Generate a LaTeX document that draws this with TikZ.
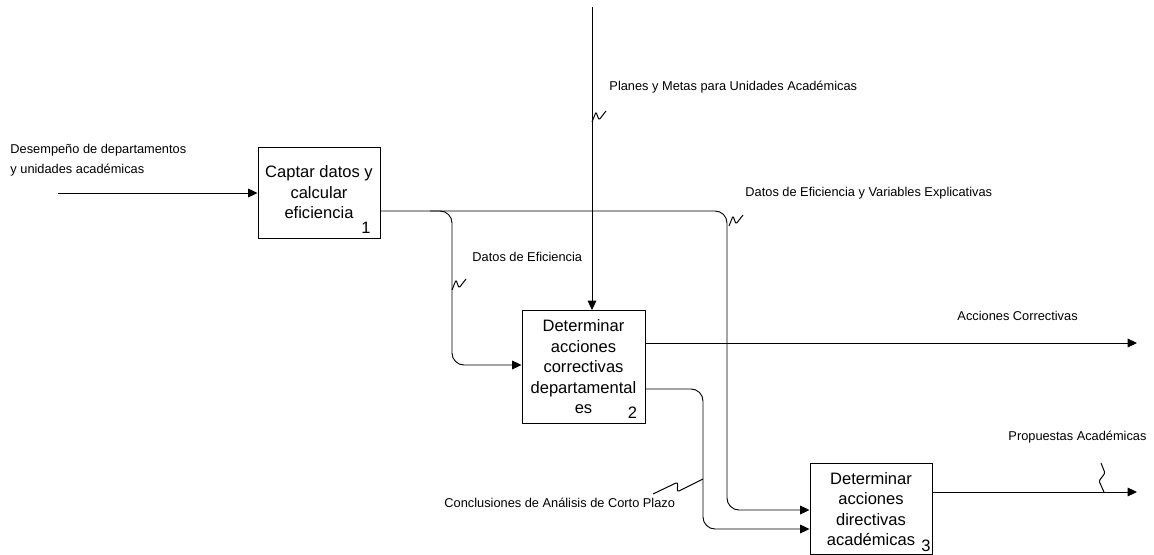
\documentclass[tikz,border=0pt]{standalone}
\usepackage{fontspec}
\setmainfont{Liberation Sans}
\usetikzlibrary{arrows.meta}

\tikzset{
  proc/.style={draw, fill=white, align=center, inner sep=0pt,
    minimum width=91.5pt, minimum height=68.25pt,
    font=\fontsize{12.4}{15.4}\selectfont},
  num/.style={anchor=south east, inner sep=0pt, font=\fontsize{12.4}{14}\selectfont},
  lbl/.style={anchor=west, inner sep=0pt, align=left, font=\fontsize{9.6}{15}\selectfont},
  arr/.style={-{Triangle[length=7pt, width=6.5pt]}},
  squig/.pic={\draw[line width=0.75pt, rounded corners=1pt] (0,0) -- (4,-10) -- (7,-2) -- (14,-11);}
}

\begin{document}
\begin{tikzpicture}[x=0.75pt, y=-0.75pt, line width=0.7pt]
  \useasboundingbox (0,0) rectangle (1154,555);

  % Activities
  \node[proc] (c1) at (319,192.5) {Captar datos y\\calcular\\eficiencia};
  \node[num, xshift=-7pt, yshift=3pt] (n1) at (c1.south east) {1};
  \node[proc, minimum width=92.25pt, minimum height=84.75pt] (c2) at (583.5,367)
    {Determinar\\acciones\\correctivas\\departamental\\es};
  \node[num, xshift=-6pt, yshift=4pt] (n2) at (c2.south east) {2};
  \node[proc] (c3) at (871,509) {Determinar\\acciones\\directivas\\académicas};
  \node[num, xshift=-1pt, yshift=2pt] (n3) at (c3.south east) {3};

  % Inputs and control
  \coordinate (in1) at (58,193);
  \draw[arr] (in1) -- (in1 -| c1.west);
  \coordinate (top) at (592,7);
  \draw[arr] (top) -- (top |- c2.north);

  % Flows between activities
  \draw[arr, rounded corners=9pt] (c1.east |- 0,211) -| (727,510) -- (c3.west |- 0,510);
  \draw[arr, rounded corners=9pt] (430,211) -| (452,365) -- (c2.west |- 0,365);
  \draw[arr, rounded corners=9pt] (c2.east |- 0,389) -| (703,529) -- (c3.west |- 0,529);

  % Outputs
  \coordinate (ac) at (1137,343);
  \draw[arr] (c2.east |- ac) -- (ac);
  \coordinate (pa) at (1137,492);
  \draw[arr] (c3.east |- pa) -- (pa);

  % Squiggles
  \pic at (592,122) {squig};
  \pic at (452,290) {squig};
  \pic at (729,226) {squig};
  \draw[line width=0.75pt, rounded corners=1pt] (1104,492) -- (1099,481) -- (1105,473) -- (1101,463);
  \draw[line width=0.75pt, rounded corners=2pt] (653,494) -- (678,482) -- (677,492) -- (703,479);

  % Labels
  \node[lbl] (ldes) at (10,160) {Desempeño de departamentos\\y unidades académicas};
  \node[lbl] (lpla) at (609,87) {Planes y Metas para Unidades Académicas};
  \node[lbl] (ldve) at (745,193) {Datos de Eficiencia y Variables Explicativas};
  \node[lbl] (lde) at (472,257) {Datos de Eficiencia};
  \node[lbl] (lac) at (957,316) {Acciones Correctivas};
  \node[lbl] (lpa) at (1008,437) {Propuestas Académicas};
  \node[lbl] (lcon) at (444,503) {Conclusiones de Análisis de Corto Plazo};
\end{tikzpicture}
\end{document}
